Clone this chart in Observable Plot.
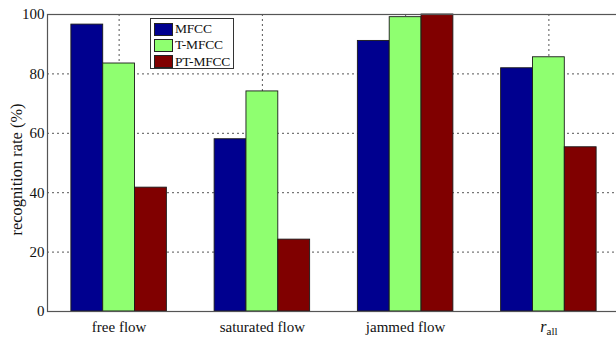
<!DOCTYPE html>
<html>
<head>
<meta charset="utf-8">
<script src="https://cdn.jsdelivr.net/npm/d3@7"></script>
<script src="https://cdn.jsdelivr.net/npm/@observablehq/plot@0.6"></script>
<style>
  html, body { margin: 0; padding: 0; background: #fff; }
  #wrap { position: relative; width: 616px; height: 339px; overflow: hidden; font-family: "Liberation Serif", "Times New Roman", serif; }
  #wrap svg, #wrap svg text { font-family: "Liberation Serif", "Times New Roman", serif !important; }
  #wrap svg text { font-size: 15px !important; fill: #111; }
  #wrap svg g[aria-label="y-axis label"] text { font-size: 16.4px !important; }
  #legend { position: absolute; left: 150px; top: 18px; width: 84px; height: 51px; border: 1px solid #333; background: #fff; box-sizing: border-box; padding: 2px 0 0 3px; }
  .item { display: flex; align-items: center; height: 16.3px; font-size: 13.5px; color: #111; letter-spacing: -0.2px; }
  .sw { width: 19px; height: 13px; box-sizing: border-box; border: 1px solid #222; margin-right: 2px; }
</style>
</head>
<body>
<div id="wrap"><div id="legend"></div></div>
<script>
const categories = ["free flow", "saturated flow", "jammed flow", "r_all"];
const series = ["MFCC", "T-MFCC", "PT-MFCC"];
const colors = ["#00008F", "#8FFF70", "#800000"];
const mfcc   = [96.6, 58.0, 91.1, 81.9];
const tmfcc  = [83.5, 74.1, 99.1, 85.6];
const ptmfcc = [41.7, 24.2, 100.0, 55.3];
const yTicks = [0, 20, 40, 60, 80, 100];

const values = [mfcc, tmfcc, ptmfcc];
const barW = (Math.min(0.8, series.length / (series.length + 1.5))) / series.length;
const rows = categories.flatMap((c, i) => series.map((s, j) => ({
  cat: c, s, v: values[j][i],
  x1: i + 1 + (j - (series.length - 1) / 2) * barW - barW / 2,
  x2: i + 1 + (j - (series.length - 1) / 2) * barW + barW / 2
})));

const dotted = {stroke: "#444", strokeOpacity: 0.9, strokeDasharray: "2,3", strokeWidth: 1};

const chart = Plot.plot({
  width: 616,
  height: 339,
  marginLeft: 47,
  marginRight: -4,
  marginTop: 14,
  marginBottom: 28,
  style: {fontFamily: "'Liberation Serif', 'Times New Roman', serif", fontSize: "15px", color: "#111", background: "transparent"},
  x: {domain: [0.5, categories.length + 0.5], ticks: categories.map((_, i) => i + 1), tickFormat: d => categories[d - 1]},
  y: {domain: [0, 100]},
  color: {domain: series, range: colors},
  marks: [
    Plot.gridY(yTicks.slice(1, -1), dotted),
    Plot.gridX(categories.map((_, i) => i + 1), dotted),
    Plot.rectY(rows, {x1: "x1", x2: "x2", y: "v", fill: "s", stroke: "#1a1a1a", strokeWidth: 0.9}),
    Plot.frame({stroke: "#555", strokeWidth: 1.2}),
    Plot.axisY(yTicks, {tickSize: 0, tickPadding: 3, label: "recognition rate (%)", labelAnchor: "center", labelArrow: "none", labelOffset: 37}),
    Plot.axisX(categories.map((_, i) => i + 1), {tickSize: 0, tickPadding: 9.5, tickFormat: d => categories[d - 1], label: null})
  ]
});

d3.select(chart).selectAll('g[aria-label="y-axis label"] text').attr("dx", -6.5);

d3.select(chart).selectAll("text").filter(function() { return this.textContent === "r_all"; }).each(function() {
  const t = d3.select(this);
  t.text(null);
  t.append("tspan").attr("font-style", "italic").attr("font-size", "16px").text("r");
  t.append("tspan").attr("font-size", "11px").attr("dy", "0.3em").text("all");
});

document.getElementById("wrap").prepend(chart);
chart.style.position = "absolute";
chart.style.left = "0";
chart.style.top = "0";

const legend = document.getElementById("legend");
series.forEach((s, j) => {
  const it = document.createElement("div");
  it.className = "item";
  const sw = document.createElement("div");
  sw.className = "sw";
  sw.style.background = colors[j];
  const lab = document.createElement("span");
  lab.textContent = s;
  it.appendChild(sw);
  it.appendChild(lab);
  legend.appendChild(it);
});
</script>
</body>
</html>
